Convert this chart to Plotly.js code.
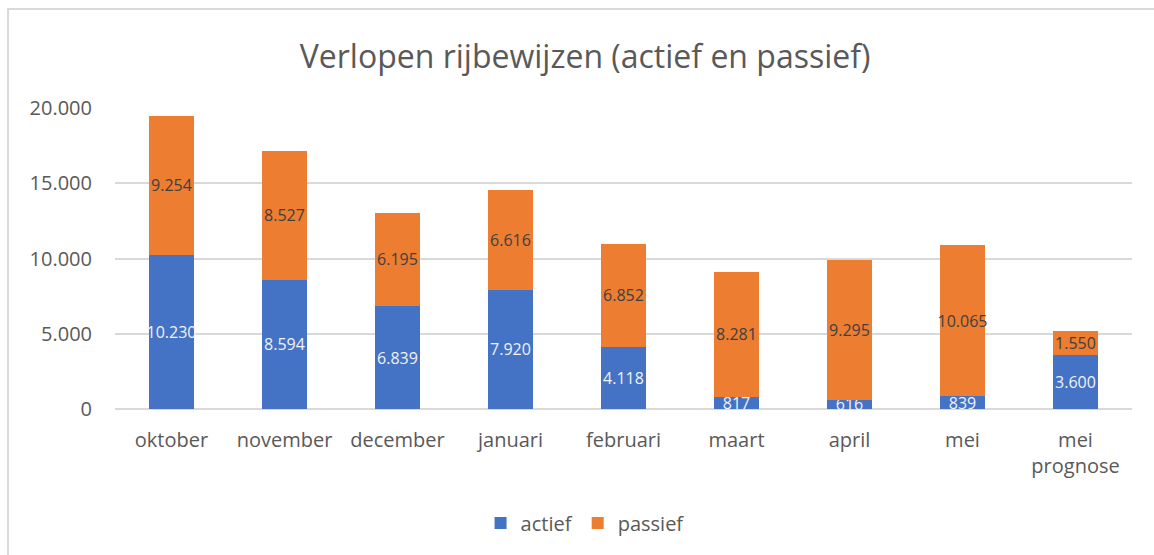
<!DOCTYPE html>
<html>
<head>
<meta charset="utf-8">
<script src="https://cdn.plot.ly/plotly-3.0.1.min.js"></script>
<style>
  html, body { margin: 0; padding: 0; background: #fff; }
  #chart { width: 1154px; height: 555px; }
</style>
</head>
<body>
<div id="chart"></div>
<script>
const categories = ["oktober", "november", "december", "januari", "februari", "maart", "april", "mei", "mei<br>prognose"];
const actief = [10230, 8594, 6839, 7920, 4118, 817, 616, 839, 3600];
const passief = [9254, 8527, 6195, 6616, 6852, 8281, 9295, 10065, 1550];
const yTicks = [0, 5000, 10000, 15000, 20000];

const FONT = "Open Sans, Noto Sans, sans-serif";

const traces = [
  {
    type: "bar", name: "actief", x: categories, y: actief,
    marker: { color: "#4472C4" },
    texttemplate: "%{y:,d}", textposition: "inside", insidetextanchor: "middle",
    textangle: 0, constraintext: "none", cliponaxis: false,
    textfont: { family: FONT, size: 16, color: "#f2f2f2" },
    hoverinfo: "skip"
  },
  {
    type: "bar", name: "passief", x: categories, y: passief,
    marker: { color: "#ED7D31" },
    texttemplate: "%{y:,d}", textposition: "inside", insidetextanchor: "middle",
    textangle: 0, constraintext: "none", cliponaxis: false,
    textfont: { family: FONT, size: 16, color: "#404040" },
    hoverinfo: "skip"
  }
];

const layout = {
  width: 1154, height: 555,
  barmode: "stack", bargap: 0.6,
  separators: ",.",
  paper_bgcolor: "#ffffff", plot_bgcolor: "#ffffff",
  margin: { l: 115, r: 22, t: 108, b: 146 },
  font: { family: FONT, color: "#595959" },
  title: {
    text: "Verlopen rijbewijzen (actief en passief)",
    font: { family: FONT, size: 32, color: "#595959" },
    xref: "container", x: 0.507, xanchor: "center",
    yref: "container", y: 1 - 57 / 555, yanchor: "middle"
  },
  xaxis: {
    type: "category",
    showgrid: false, showline: false, zeroline: false,
    ticks: "", ticklabelstandoff: 17,
    tickfont: { family: FONT, size: 20, color: "#595959" }
  },
  yaxis: {
    range: [0, 20000], tickvals: yTicks, tickformat: ",d",
    showgrid: true, gridcolor: "#d9d9d9", gridwidth: 2,
    zeroline: true, zerolinecolor: "#d9d9d9", zerolinewidth: 2,
    showline: false, ticks: "", ticklabelstandoff: 22,
    tickfont: { family: FONT, size: 20, color: "#595959" }
  },
  showlegend: true,
  legend: {
    orientation: "h", xref: "container", yref: "container",
    x: 0.507, xanchor: "center", y: 1 - 523 / 555, yanchor: "middle",
    font: { family: FONT, size: 20, color: "#595959" },
    itemwidth: 30, traceorder: "normal"
  },
  shapes: [
    {
      type: "rect", xref: "paper", yref: "paper",
      x0: (8 - 115) / 1017, x1: (1160 - 115) / 1017,
      y0: (409 - 560) / 301, y1: (409 - 9) / 301,
      line: { color: "#d9d9d9", width: 2 }, fillcolor: "rgba(0,0,0,0)",
      layer: "below"
    }
  ]
};

Plotly.newPlot("chart", traces, layout, { staticPlot: true, displayModeBar: false });
</script>
</body>
</html>
